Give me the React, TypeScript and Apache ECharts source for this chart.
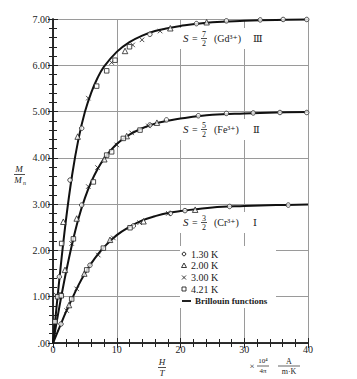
import React, { useEffect, useRef } from "react";
import * as echarts from "echarts";

// H/T values (x 10^4/4π A/(m·K)) for the Brillouin curves
const curveX = [0, 1, 2, 3, 4, 5, 6, 7, 8, 10, 12, 14, 16, 18, 20, 25, 30, 35, 40];
// S = 7/2 (Gd3+)  III
const gdCurve = [0, 1.38, 2.62, 3.63, 4.41, 4.99, 5.41, 5.73, 5.97, 6.29, 6.5, 6.64, 6.74, 6.8, 6.85, 6.93, 6.96, 6.98, 6.99];
// S = 5/2 (Fe3+)  II
const feCurve = [0, 0.78, 1.5, 2.14, 2.69, 3.13, 3.48, 3.76, 3.98, 4.3, 4.5, 4.64, 4.74, 4.8, 4.85, 4.93, 4.96, 4.98, 4.99];
// S = 3/2 (Cr3+)  I
const crCurve = [0, 0.33, 0.66, 0.96, 1.25, 1.5, 1.72, 1.91, 2.07, 2.33, 2.51, 2.65, 2.74, 2.81, 2.85, 2.93, 2.96, 2.98, 2.99];

// measured points [H/T, M/Mn]
const pts130K = [
  [1.0, 1.43], [2.67, 3.52], [4.5, 4.64], [15.2, 6.67], [22.5, 6.9], [27.2, 6.96], [32.5, 6.98], [36.1, 6.99], [39.8, 6.99],
  [1.1, 1.04], [4.5, 2.98], [15.2, 4.71], [17.8, 4.82], [22.8, 4.91], [27.2, 4.96], [31.4, 4.97], [35.6, 4.98], [39.8, 4.98],
  [1.25, 0.41], [5.8, 1.68], [12.6, 2.53], [18.4, 2.8], [20.7, 2.86], [27.7, 2.95], [36.9, 2.98],
];
const pts200K = [
  [1.62, 2.62], [3.87, 4.46], [11.3, 6.31], [18.4, 6.8], [24.1, 6.93],
  [1.88, 1.58], [3.72, 2.69], [8.05, 3.97], [11.56, 4.47], [16.3, 4.76],
  [2.51, 0.82], [4.91, 1.5], [8.94, 2.23], [14.2, 2.63], [22.3, 2.88],
];
const pts300K = [
  [0.47, 1.04], [5.54, 5.29], [9.2, 6.06], [12.5, 6.44], [13.96, 6.55], [16.8, 6.74],
  [2.93, 2.15], [5.54, 3.38], [6.99, 3.79], [10.0, 4.28], [12.34, 4.54], [14.96, 4.69],
  [2.15, 0.7], [3.72, 1.17], [7.1, 1.9], [9.46, 2.27], [13.6, 2.6], [18.1, 2.8],
];
const pts421K = [
  [0.31, 0.46], [0.72, 1.0], [1.36, 2.15], [6.85, 5.55], [8.42, 5.88], [9.73, 6.11], [12.0, 6.4],
  [1.3, 1.02], [3.2, 2.25], [6.33, 3.48], [8.42, 4.06], [9.2, 4.13], [11.03, 4.42], [13.65, 4.6],
  [2.93, 0.95], [5.29, 1.58], [7.9, 2.05], [12.08, 2.49],
];

const legendLabels = ["1.30 K", "2.00 K", "3.00 K", "4.21 K", "Brillouin functions"];

const FONT = '"Liberation Serif", "DejaVu Serif", serif';
const INK = "#222";

function frac(cx: number, cy: number, num: string, den: string, fs: number, halfW: number) {
  return [
    { type: "text", z: 3, style: { text: num, x: cx, y: cy - fs * 0.55, align: "center", verticalAlign: "middle", font: `${fs}px ${FONT}`, fill: INK } },
    { type: "line", z: 3, shape: { x1: cx - halfW, y1: cy, x2: cx + halfW, y2: cy }, style: { stroke: INK, lineWidth: 0.8 } },
    { type: "text", z: 3, style: { text: den, x: cx, y: cy + fs * 0.6, align: "center", verticalAlign: "middle", font: `${fs}px ${FONT}`, fill: INK } },
  ];
}

function curveLabel(y: number, num: string, ion: string, roman: string) {
  return [
    { type: "rect", z: 1, shape: { x: 180, y: y - 10, width: 84, height: 21 }, style: { fill: "#fff" } },
    { type: "text", z: 3, style: { text: "S", x: 183, y, verticalAlign: "middle", font: `italic 11px ${FONT}`, fill: INK } },
    { type: "text", z: 3, style: { text: "=", x: 192, y, verticalAlign: "middle", font: `10px ${FONT}`, fill: INK } },
    ...frac(204, y + 0.5, num, "2", 8, 3),
    { type: "text", z: 3, style: { text: ion, x: 214, y, verticalAlign: "middle", font: `10px ${FONT}`, fill: INK } },
    { type: "text", z: 3, style: { text: roman, x: 253, y, verticalAlign: "middle", font: `10px ${FONT}`, fill: INK } },
  ];
}

export default function App() {
  const ref = useRef<HTMLDivElement>(null);
  useEffect(() => {
    document.body.style.margin = "0";
    const chart = echarts.init(ref.current!, null, { renderer: "svg" });
    const toXY = (ys: number[]) => curveX.map((x, i) => [x, ys[i]]);
    const tickCommon = {
      axisLine: { show: true, lineStyle: { color: INK, width: 1.5 } },
      axisTick: { show: true, inside: true, length: 5, lineStyle: { color: INK, width: 1 } },
      minorTick: { show: true, splitNumber: 5, length: 4, lineStyle: { color: INK, width: 1 } },
    };
    const hollow = { color: "#fff", borderColor: INK, borderWidth: 1 };
    const scatter = (data: number[][], symbol: string, size: number, itemStyle: any) => ({
      type: "scatter", data, symbol, symbolSize: size, itemStyle, z: 4, silent: true,
    });
    const legendY = [254, 265.5, 277.5, 289, 301];
    const legendGraphics: any[] = [
      { type: "rect", z: 1, shape: { x: 180, y: 246, width: 96, height: 62 }, style: { fill: "#fff" } },
      { type: "circle", z: 3, shape: { cx: 184, cy: legendY[0], r: 1.8 }, style: { fill: "#fff", stroke: INK, lineWidth: 1 } },
      { type: "polygon", z: 3, shape: { points: [[184, legendY[1] - 2.5], [181.5, legendY[1] + 2], [186.5, legendY[1] + 2]] }, style: { fill: "#fff", stroke: INK, lineWidth: 0.9 } },
      { type: "line", z: 3, shape: { x1: 182, y1: legendY[2] - 2, x2: 186, y2: legendY[2] + 2 }, style: { stroke: INK, lineWidth: 0.9 } },
      { type: "line", z: 3, shape: { x1: 186, y1: legendY[2] - 2, x2: 182, y2: legendY[2] + 2 }, style: { stroke: INK, lineWidth: 0.9 } },
      { type: "rect", z: 3, shape: { x: 182, y: legendY[3] - 2, width: 4, height: 4 }, style: { fill: "#fff", stroke: INK, lineWidth: 0.9 } },
      { type: "line", z: 3, shape: { x1: 182, y1: legendY[4], x2: 191, y2: legendY[4] }, style: { stroke: INK, lineWidth: 2 } },
      ...legendLabels.map((t, i) => ({
        type: "text", z: 3,
        style: { text: t, x: i === 4 ? 195 : 191, y: legendY[i], verticalAlign: "middle", font: `${i === 4 ? "bold 9px" : "10px"} ${FONT}`, fill: INK },
      })),
    ];
    chart.setOption({
      animation: false,
      backgroundColor: "#fff",
      grid: { left: 53, top: 19, width: 255, height: 324, containLabel: false },
      xAxis: [
        {
          type: "value", min: 0, max: 40, interval: 10, position: "bottom",
          ...tickCommon,
          axisLabel: { show: true, margin: 1, fontFamily: FONT, fontSize: 10, color: INK },
          splitLine: { show: true, lineStyle: { color: "#9a9a9a", width: 1 } },
        },
        {
          type: "value", min: 0, max: 40, interval: 10, position: "top",
          ...tickCommon,
          axisLabel: { show: false },
          splitLine: { show: false },
        },
      ],
      yAxis: [
        {
          type: "value", min: 0, max: 7, interval: 1, position: "left",
          ...tickCommon,
          axisLabel: {
            show: true, margin: 3, fontFamily: FONT, fontSize: 10, color: INK,
            formatter: (v: number) => (v === 0 ? ".00" : v.toFixed(2)),
          },
          splitLine: { show: true, lineStyle: { color: "#9a9a9a", width: 1 } },
        },
        {
          type: "value", min: 0, max: 7, interval: 1, position: "right",
          ...tickCommon,
          axisLabel: { show: false },
          splitLine: { show: false },
        },
      ],
      series: [
        ...[gdCurve, feCurve, crCurve].map((c) => ({
          type: "line", data: toXY(c), smooth: 0.4, showSymbol: false, symbol: "none", z: 3,
          lineStyle: { color: "#111", width: 2 }, silent: true,
        })),
        scatter(pts130K, "circle", 4.5, hollow),
        scatter(pts200K, "triangle", 5.5, hollow),
        scatter(pts300K, "path://M0,0L10,10M10,0L0,10", 4.5, { color: "none", borderColor: INK, borderWidth: 1 }),
        scatter(pts421K, "rect", 4.5, hollow),
      ],
      graphic: [
        ...curveLabel(38, "7", "(Gd³⁺)", "Ⅲ"),
        ...curveLabel(129, "5", "(Fe³⁺)", "Ⅱ"),
        ...curveLabel(222, "3", "(Cr³⁺)", "Ⅰ"),
        ...legendGraphics,
        // y-axis name M / Mn
        { type: "text", z: 3, style: { text: "M", x: 19, y: 169, align: "center", verticalAlign: "middle", font: `italic 9px ${FONT}`, fill: INK } },
        { type: "line", z: 3, shape: { x1: 14, y1: 174.5, x2: 25, y2: 174.5 }, style: { stroke: INK, lineWidth: 0.8 } },
        { type: "text", z: 3, style: { text: "M", x: 18, y: 180, align: "center", verticalAlign: "middle", font: `italic 9px ${FONT}`, fill: INK } },
        { type: "text", z: 3, style: { text: "n", x: 23, y: 182.5, align: "left", verticalAlign: "middle", font: `italic 6px ${FONT}`, fill: INK } },
        // x-axis name H / T
        { type: "text", z: 3, style: { text: "H", x: 162, y: 362, align: "center", verticalAlign: "middle", font: `italic 9px ${FONT}`, fill: INK } },
        { type: "line", z: 3, shape: { x1: 158, y1: 367.5, x2: 166, y2: 367.5 }, style: { stroke: INK, lineWidth: 0.8 } },
        { type: "text", z: 3, style: { text: "T", x: 162, y: 373, align: "center", verticalAlign: "middle", font: `italic 9px ${FONT}`, fill: INK } },
        // unit × 10^4/4π  A/(m·K)
        { type: "text", z: 3, style: { text: "×", x: 252, y: 366, align: "center", verticalAlign: "middle", font: `9px ${FONT}`, fill: INK } },
        { type: "text", z: 3, style: { text: "10⁴", x: 263, y: 361, align: "center", verticalAlign: "middle", font: `7px ${FONT}`, fill: INK } },
        { type: "line", z: 3, shape: { x1: 257, y1: 366, x2: 269, y2: 366 }, style: { stroke: INK, lineWidth: 0.7 } },
        { type: "text", z: 3, style: { text: "4π", x: 263, y: 371, align: "center", verticalAlign: "middle", font: `7px ${FONT}`, fill: INK } },
        { type: "text", z: 3, style: { text: "A", x: 289, y: 361, align: "center", verticalAlign: "middle", font: `8px ${FONT}`, fill: INK } },
        { type: "line", z: 3, shape: { x1: 278, y1: 366, x2: 300, y2: 366 }, style: { stroke: INK, lineWidth: 0.7 } },
        { type: "text", z: 3, style: { text: "m·K", x: 289, y: 371.5, align: "center", verticalAlign: "middle", font: `8px ${FONT}`, fill: INK } },
      ],
    });
    return () => chart.dispose();
  }, []);
  return <div ref={ref} style={{ width: 357, height: 379 }} />;
}
